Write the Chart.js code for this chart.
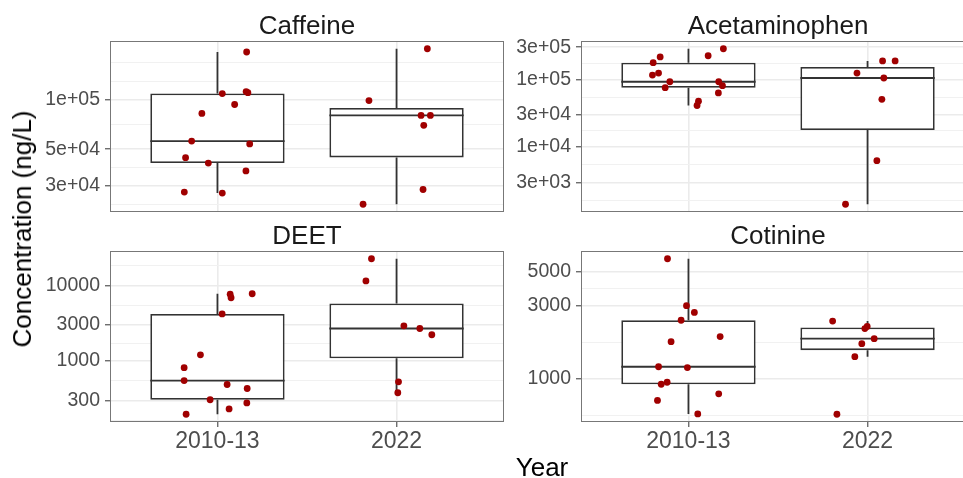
<!DOCTYPE html>
<html>
<head>
<meta charset="utf-8">
<title>Concentration by Year</title>
<script src="https://cdn.jsdelivr.net/npm/chart.js"></script>
<style>
  html, body { margin: 0; padding: 0; background: #fff; }
  body { width: 963px; height: 478px; position: relative; overflow: hidden; font-family: "Liberation Sans", Arial, sans-serif; }
  canvas { position: absolute; }
  .axis-title { position: absolute; font-size: 26px; line-height: 1; color: #000; white-space: nowrap; transform: translate(-50%, -50%); }
</style>
</head>
<body>
<canvas id="caffeineChart" width="514" height="240" style="left:0;top:0"></canvas>
<canvas id="acetaminophenChart" width="514" height="240" style="left:471px;top:0"></canvas>
<canvas id="deetChart" width="514" height="261" style="left:0;top:210px"></canvas>
<canvas id="cotinineChart" width="514" height="261" style="left:471px;top:210px"></canvas>
<div class="axis-title" style="left:22px;top:229px;transform:translate(-50%,-50%) rotate(-90deg)">Concentration (ng/L)</div>
<div class="axis-title" style="left:542px;top:467px">Year</div>
<script>
const years = ['2010-13', '2022'];

// values in ng/L; jitter = horizontal offset of each point from its year
const caffeine2010 = [194000, 108700, 111700, 110000, 93300, 82400, 56000, 53800, 44400, 41200, 36900, 27500, 27100];
const caffeineJitter2010 = [0.163, 0.027, 0.160, 0.170, 0.096, -0.087, -0.144, 0.180, -0.178, -0.051, 0.159, -0.185, 0.027];
const caffeine2022 = [203000, 98600, 80100, 80100, 69800, 28500, 23200];
const caffeineJitter2022 = [0.172, -0.154, 0.137, 0.189, 0.152, 0.148, -0.187];
const caffeineTicks = [3e4, 5e4, 1e5];
const caffeineTickLabels = ['3e+04', '5e+04', '1e+05'];

const acetaminophen2010 = [284000, 215000, 224000, 177000, 124000, 116000, 92500, 92500, 80900, 75500, 63100, 47600, 41200];
const acetaminophenJitter2010 = [0.195, -0.158, 0.110, -0.197, -0.167, -0.201, -0.104, 0.169, 0.190, -0.130, 0.167, 0.056, 0.048];
const acetaminophen2022 = [188000, 188000, 124000, 105000, 50900, 6300, 1430];
const acetaminophenJitter2022 = [0.084, 0.154, -0.059, 0.091, 0.080, 0.052, -0.123];
const acetaminophenTicks = [3e3, 1e4, 3e4, 1e5, 3e5];
const acetaminophenTickLabels = ['3e+03', '1e+04', '3e+04', '1e+05', '3e+05'];

const deet2010 = [7690, 6890, 7780, 4210, 1210, 818, 552, 490, 434, 308, 279, 233, 198];
const deetJitter2010 = [0.071, 0.076, 0.194, 0.026, -0.095, -0.186, -0.186, 0.054, 0.166, -0.041, 0.164, 0.065, -0.175];
const deet2022 = [22600, 11500, 2930, 2700, 2230, 531, 381];
const deetJitter2022 = [-0.140, -0.171, 0.041, 0.130, 0.197, 0.011, 0.007];
const deetTicks = [300, 1000, 3000, 10000];
const deetTickLabels = ['300', '1000', '3000', '10000'];

const cotinine2010 = [6040, 2990, 2700, 2400, 1880, 1740, 1195, 1180, 947, 919, 796, 721, 589];
const cotinineJitter2010 = [-0.117, -0.011, 0.033, -0.041, 0.177, -0.097, -0.167, -0.006, -0.119, -0.152, 0.169, -0.173, 0.052];
const cotinine2022 = [2370, 2190, 2120, 1820, 1690, 1390, 586];
const cotinineJitter2022 = [-0.195, -0.002, -0.015, 0.037, -0.032, -0.071, -0.171];
const cotinineTicks = [1000, 3000, 5000];
const cotinineTickLabels = ['1000', '3000', '5000'];

const FONT = "'Liberation Sans', Arial, sans-serif";
Chart.defaults.font.family = FONT;

function quantile(sorted, p) {
    const h = (sorted.length - 1) * p;
    const i = Math.floor(h);
    const next = i + 1 < sorted.length ? sorted[i + 1] : sorted[i];
    return sorted[i] + (h - i) * (next - sorted[i]);
}

// box stats on the log10 scale, whiskers to the last point inside 1.5 IQR
function boxStats(values) {
    const logs = values.map(Math.log10).sort((a, b) => a - b);
    const q1 = quantile(logs, 0.25), med = quantile(logs, 0.5), q3 = quantile(logs, 0.75);
    const iqr = q3 - q1;
    const inside = logs.filter(v => v >= q1 - 1.5 * iqr && v <= q3 + 1.5 * iqr);
    const p = v => Math.pow(10, v);
    return { q1: p(q1), med: p(med), q3: p(q3), lo: p(Math.min(...inside)), hi: p(Math.max(...inside)) };
}

// minor grid like ggplot: midpoints between breaks, extended one step past the ends
function minorBreaks(major, lo, hi) {
    const b = major.slice();
    const step = b[1] - b[0];
    if (lo < b[0]) b.unshift(b[0] - step);
    if (hi > b[b.length - 1]) b.push(b[b.length - 1] + step);
    const out = [];
    for (let i = 0; i < b.length - 1; i++) out.push(b[i], (b[i] + b[i + 1]) / 2);
    out.push(b[b.length - 1]);
    return out.filter(v => v >= lo && v <= hi && !major.some(m => Math.abs(m - v) < 1e-9));
}

const panelBorder = {
    id: 'panelBorder',
    afterDraw(chart) {
        const { ctx, chartArea: a } = chart;
        ctx.save();
        ctx.strokeStyle = '#777777';
        ctx.lineWidth = 1;
        ctx.strokeRect(Math.round(a.left) + 0.5, Math.round(a.top) + 0.5,
            Math.round(a.right - a.left) - 1, Math.round(a.bottom - a.top) - 1);
        ctx.restore();
    }
};

function drawPanel(canvasId, title, groups, jitters, ticks, tickLabels, showX) {
    const stats = groups.map(boxStats);
    const all = groups.flat().map(Math.log10);
    const dMin = Math.min(...all), dMax = Math.max(...all);
    const pad = (dMax - dMin) * 0.05;
    const yMin = dMin - pad, yMax = dMax + pad;

    const majorLogs = ticks.map(Math.log10);
    const gridLogs = majorLogs.concat(minorBreaks(majorLogs, yMin, yMax)).sort((a, b) => a - b);
    const majorIndex = v => majorLogs.findIndex(m => Math.abs(Math.log10(v) - m) < 1e-6);

    const whiskers = [], medians = [], points = [];
    stats.forEach((s, i) => {
        const x = i + 1;
        whiskers.push({ x, y: s.q3 }, { x, y: s.hi }, { x, y: null }, { x, y: s.q1 }, { x, y: s.lo }, { x, y: null });
        medians.push({ x: x - 0.375, y: s.med }, { x: x + 0.375, y: s.med }, { x, y: null });
        groups[i].forEach((v, j) => points.push({ x: x + jitters[i][j], y: v }));
    });

    new Chart(document.getElementById(canvasId), {
        type: 'scatter',
        data: {
            datasets: [
                {
                    type: 'bar',
                    data: stats.map((s, i) => ({ x: i + 1, y: [s.q1, s.q3] })),
                    backgroundColor: '#ffffff',
                    borderColor: '#333333',
                    borderWidth: 1.8,
                    borderSkipped: false,
                    barPercentage: 0.75,
                    categoryPercentage: 1,
                    order: 4
                },
                {
                    data: whiskers, showLine: true, spanGaps: false,
                    borderColor: '#333333', borderWidth: 1.8, pointRadius: 0, order: 5
                },
                {
                    data: medians, showLine: true, spanGaps: false,
                    borderColor: '#333333', borderWidth: 1.8, pointRadius: 0, order: 2
                },
                {
                    data: points,
                    backgroundColor: '#a00000', borderWidth: 0, pointRadius: 3.4, order: 1
                }
            ]
        },
        options: {
            responsive: false,
            animation: false,
            layout: { padding: { left: 0, right: 10, top: 0, bottom: showX ? 0 : 28 } },
            plugins: {
                legend: { display: false },
                tooltip: { enabled: false },
                title: {
                    display: true,
                    text: title,
                    fullSize: false,
                    color: '#1a1a1a',
                    font: { size: 26, weight: 'normal', lineHeight: 1 },
                    padding: { top: 14, bottom: 1 }
                }
            },
            scales: {
                x: {
                    type: 'linear',
                    min: 0.4,
                    max: 2.6,
                    offset: false,
                    afterBuildTicks: axis => { axis.ticks = years.map((_, i) => ({ value: i + 1 })); },
                    ticks: {
                        display: showX,
                        callback: v => years[v - 1],
                        font: { size: 23, lineHeight: 1 },
                        color: '#4d4d4d',
                        padding: 3,
                        maxRotation: 0
                    },
                    grid: {
                        offset: false,
                        color: '#ebebeb',
                        lineWidth: 1.6,
                        drawTicks: showX,
                        tickLength: 5,
                        tickColor: '#333333',
                        tickWidth: 1
                    },
                    border: { display: false },
                    afterFit: axis => { axis.height = showX ? 49 : 0; }
                },
                y: {
                    type: 'logarithmic',
                    min: Math.pow(10, yMin),
                    max: Math.pow(10, yMax),
                    afterBuildTicks: axis => { axis.ticks = gridLogs.map(v => ({ value: Math.pow(10, v) })); },
                    ticks: {
                        autoSkip: false,
                        callback: v => { const k = majorIndex(v); return k >= 0 ? tickLabels[k] : ''; },
                        font: { size: 19.5 },
                        color: '#4d4d4d',
                        padding: 5
                    },
                    grid: {
                        color: c => (c.tick && majorIndex(c.tick.value) >= 0) ? '#ebebeb' : '#f1f1f1',
                        lineWidth: c => (c.tick && majorIndex(c.tick.value) >= 0) ? 1.6 : 1,
                        tickLength: 5,
                        tickColor: c => (c.tick && majorIndex(c.tick.value) >= 0) ? '#333333' : 'rgba(0,0,0,0)',
                        tickWidth: 1
                    },
                    border: { display: false },
                    afterFit: axis => { axis.width = 110; }
                }
            }
        },
        plugins: [panelBorder]
    });
}

drawPanel('caffeineChart', 'Caffeine', [caffeine2010, caffeine2022], [caffeineJitter2010, caffeineJitter2022], caffeineTicks, caffeineTickLabels, false);
drawPanel('acetaminophenChart', 'Acetaminophen', [acetaminophen2010, acetaminophen2022], [acetaminophenJitter2010, acetaminophenJitter2022], acetaminophenTicks, acetaminophenTickLabels, false);
drawPanel('deetChart', 'DEET', [deet2010, deet2022], [deetJitter2010, deetJitter2022], deetTicks, deetTickLabels, true);
drawPanel('cotinineChart', 'Cotinine', [cotinine2010, cotinine2022], [cotinineJitter2010, cotinineJitter2022], cotinineTicks, cotinineTickLabels, true);
</script>
</body>
</html>
